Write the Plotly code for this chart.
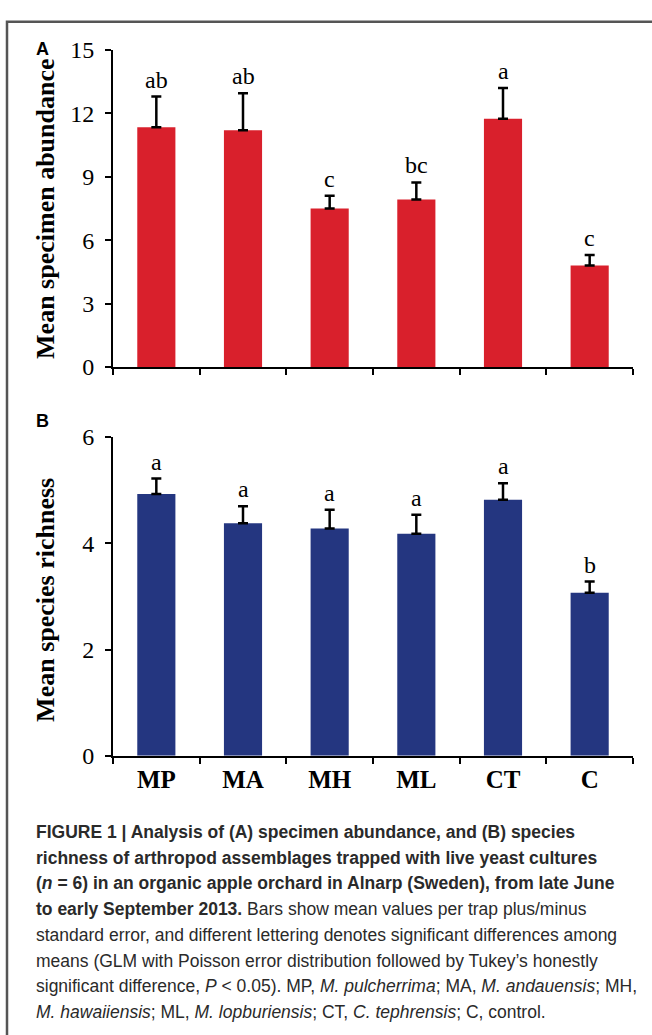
import plotly.graph_objects as go

W, H = 652, 1035

categories = ["MP", "MA", "MH", "ML", "CT", "C"]
abundance_mean = [11.35, 11.2, 7.5, 7.93, 11.75, 4.8]
abundance_se = [1.45, 1.75, 0.6, 0.8, 1.45, 0.5]
abundance_letters = ["ab", "ab", "c", "bc", "a", "c"]
richness_mean = [4.93, 4.38, 4.28, 4.18, 4.82, 3.07]
richness_se = [0.29, 0.32, 0.35, 0.36, 0.31, 0.21]
richness_letters = ["a", "a", "a", "a", "a", "b"]
abundance_ticks = [0, 3, 6, 9, 12, 15]
richness_ticks = [0, 2, 4, 6]

caption_lines = [
    "<b>FIGURE 1 | Analysis of (A) specimen abundance, and (B) species</b>",
    "<b>richness of arthropod assemblages trapped with live yeast cultures</b>",
    "<b>(<i>n</i> = 6) in an organic apple orchard in Alnarp (Sweden), from late June</b>",
    "<b>to early September 2013.</b> Bars show mean values per trap plus/minus",
    "standard error, and different lettering denotes significant differences among",
    "means (GLM with Poisson error distribution followed by Tukey\u2019s honestly",
    "significant difference, <i>P</i> &lt; 0.05). MP, <i>M. pulcherrima</i>; MA, <i>M. andauensis</i>; MH,",
    "<i>M. hawaiiensis</i>; ML, <i>M. lopburiensis</i>; CT, <i>C. tephrensis</i>; C, control.",
]


def px_x(x):
    return x / W


def px_y(y):
    return 1 - y / H


SERIF = "Liberation Serif, Times New Roman, serif"
SANS = "Liberation Sans, Arial, sans-serif"
RED = "#D9202C"
BLUE = "#243680"

fig = go.Figure()

fig.add_trace(go.Bar(
    x=categories, y=abundance_mean, marker=dict(color=RED, line=dict(width=0)),
    error_y=dict(type="data", symmetric=False, array=abundance_se,
                 arrayminus=[0] * len(categories), color="black",
                 thickness=2.5, width=5),
    xaxis="x", yaxis="y", showlegend=False, hoverinfo="skip",
))
fig.add_trace(go.Bar(
    x=categories, y=richness_mean, marker=dict(color=BLUE, line=dict(width=0)),
    error_y=dict(type="data", symmetric=False, array=richness_se,
                 arrayminus=[0] * len(categories), color="black",
                 thickness=2.5, width=5),
    xaxis="x2", yaxis="y2", showlegend=False, hoverinfo="skip",
))

xdom = [px_x(113), px_x(633)]
axis_common = dict(showline=True, linecolor="black", linewidth=2,
                   ticks="outside", ticklen=6, tickwidth=2, tickcolor="black",
                   showgrid=False, zeroline=False)

fig.update_layout(
    width=W, height=H,
    margin=dict(l=0, r=0, t=0, b=0),
    paper_bgcolor="white", plot_bgcolor="white",
    bargap=0.56,
    xaxis=dict(domain=xdom, anchor="y", type="category", tickson="boundaries",
               showticklabels=False, **axis_common),
    yaxis=dict(domain=[px_y(363), px_y(38)], anchor="x", range=[0, 15],
               tickvals=abundance_ticks, ticklabelstandoff=6,
               tickfont=dict(family=SERIF, size=24, color="black"), **axis_common),
    xaxis2=dict(domain=xdom, anchor="y2", type="category", tickson="boundaries",
                tickfont=dict(family=SERIF, size=25, color="black", weight="bold"),
                **axis_common),
    yaxis2=dict(domain=[px_y(762), px_y(435)], anchor="x2", range=[0, 6],
                tickvals=richness_ticks, ticklabelstandoff=6,
                tickfont=dict(family=SERIF, size=24, color="black"), **axis_common),
)

annotations = []
for c, m, e, t in zip(categories, abundance_mean, abundance_se, abundance_letters):
    annotations.append(dict(x=c, y=m + e, xref="x", yref="y", text=t, showarrow=False,
                            yanchor="bottom", yshift=2,
                            font=dict(family=SERIF, size=24, color="black")))
for c, m, e, t in zip(categories, richness_mean, richness_se, richness_letters):
    annotations.append(dict(x=c, y=m + e, xref="x2", yref="y2", text=t, showarrow=False,
                            yanchor="bottom", yshift=2,
                            font=dict(family=SERIF, size=24, color="black")))

annotations.append(dict(x=px_x(46), y=px_y(201), xref="paper", yref="paper",
                        text="<b>Mean specimen abundance</b>", textangle=-90,
                        showarrow=False, xanchor="center", yanchor="middle",
                        font=dict(family=SERIF, size=26, color="black")))
annotations.append(dict(x=px_x(46), y=px_y(602), xref="paper", yref="paper",
                        text="<b>Mean species richness</b>", textangle=-90,
                        showarrow=False, xanchor="center", yanchor="middle",
                        font=dict(family=SERIF, size=26, color="black")))
annotations.append(dict(x=px_x(43), y=px_y(37), xref="paper", yref="paper",
                        text="<b>A</b>", showarrow=False, xanchor="center", yanchor="middle",
                        font=dict(family=SANS, size=18, color="black")))
annotations.append(dict(x=px_x(43), y=px_y(419), xref="paper", yref="paper",
                        text="<b>B</b>", showarrow=False, xanchor="center", yanchor="middle",
                        font=dict(family=SANS, size=18, color="black")))

for i, line in enumerate(caption_lines):
    annotations.append(dict(x=px_x(34), y=px_y(840 + i * 26.4), xref="paper", yref="paper",
                            text=line, showarrow=False, xanchor="left", yanchor="middle",
                            align="left",
                            font=dict(family=SANS, size=17.5, color="#2a2a2a")))

fig.update_layout(annotations=annotations)

# frame: only its left and top edges fall inside the page
fig.update_layout(shapes=[
    dict(type="rect", xref="paper", yref="paper",
         x0=px_x(7), x1=1.05, y0=-0.05, y1=px_y(9),
         line=dict(color="#555555", width=2.5), fillcolor="rgba(0,0,0,0)", layer="above"),
])

fig.write_html(
    "out.html",
    config={"displayModeBar": False, "staticPlot": True},
    post_script="document.body.style.margin='0';document.body.style.padding='0';"
                "document.documentElement.style.overflow='hidden';",
)
